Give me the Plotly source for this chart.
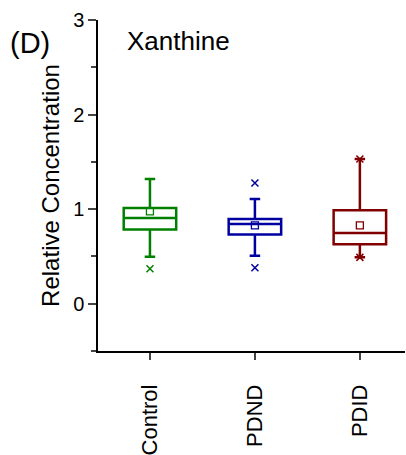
import plotly.graph_objects as go

categories = ["Control", "PDND", "PDID"]
colors = ["#008000", "#0000A0", "#800000"]
q1 = [0.786, 0.733, 0.628]
median = [0.907, 0.843, 0.748]
q3 = [1.013, 0.896, 0.987]
lower = [0.497, 0.508, 0.490]
upper = [1.320, 1.108, 1.531]
means = [0.977, 0.829, 0.829]
outliers = [[0.37], [1.277, 0.381], [1.531, 0.490]]

fig = go.Figure()
for i, cat in enumerate(categories):
    fig.add_trace(go.Box(
        x=[i], q1=[q1[i]], median=[median[i]], q3=[q3[i]],
        lowerfence=[lower[i]], upperfence=[upper[i]],
        width=0.5, whiskerwidth=0.2, boxpoints=False,
        line=dict(color=colors[i], width=2.5),
        fillcolor="rgba(255,255,255,0)", name=cat, showlegend=False,
    ))
    fig.add_trace(go.Scatter(
        x=[i] * len(outliers[i]), y=outliers[i], mode="markers",
        marker=dict(symbol="x-thin", size=7, line=dict(color=colors[i], width=1.5)),
        showlegend=False,
    ))
    fig.add_trace(go.Scatter(
        x=[i], y=[means[i]], mode="markers",
        marker=dict(symbol="square-open", size=7, color=colors[i], line=dict(width=1.3)),
        showlegend=False,
    ))

font_family = "Liberation Sans, Arial, sans-serif"
fig.update_layout(
    width=406, height=455,
    margin=dict(l=98, r=1, t=20, b=104),
    paper_bgcolor="white", plot_bgcolor="white",
    boxmode="overlay",
    font=dict(family=font_family, color="black"),
    xaxis=dict(
        range=[-0.495, 2.43], tickvals=[0, 1, 2], ticktext=categories,
        tickangle=-90, ticks="outside", ticklen=7, tickwidth=1.5,
        showline=True, linewidth=1.5, linecolor="black",
        showgrid=False, zeroline=False, tickfont=dict(size=22),
        ticklabelstandoff=16, automargin=False,
    ),
    yaxis=dict(
        range=[-0.5, 3], tickvals=[0, 1, 2, 3], ticks="outside", ticklen=8,
        tickwidth=1.5, showline=True, linewidth=1.5, linecolor="black",
        showgrid=False, zeroline=False, tickfont=dict(size=20),
        minor=dict(dtick=0.5, ticks="outside", ticklen=5, tickwidth=1.5, showgrid=False),
        title=dict(text="Relative Concentration", font=dict(size=24), standoff=7),
        automargin=False,
    ),
    annotations=[
        dict(text="(D)", x=-0.293, y=0.93, xref="paper", yref="paper",
             xanchor="left", yanchor="middle", showarrow=False, font=dict(size=29)),
        dict(text="Xanthine", x=0.088, y=0.937, xref="paper", yref="paper",
             xanchor="left", yanchor="middle", showarrow=False, font=dict(size=26)),
    ],
)
fig.write_html("out.html")
